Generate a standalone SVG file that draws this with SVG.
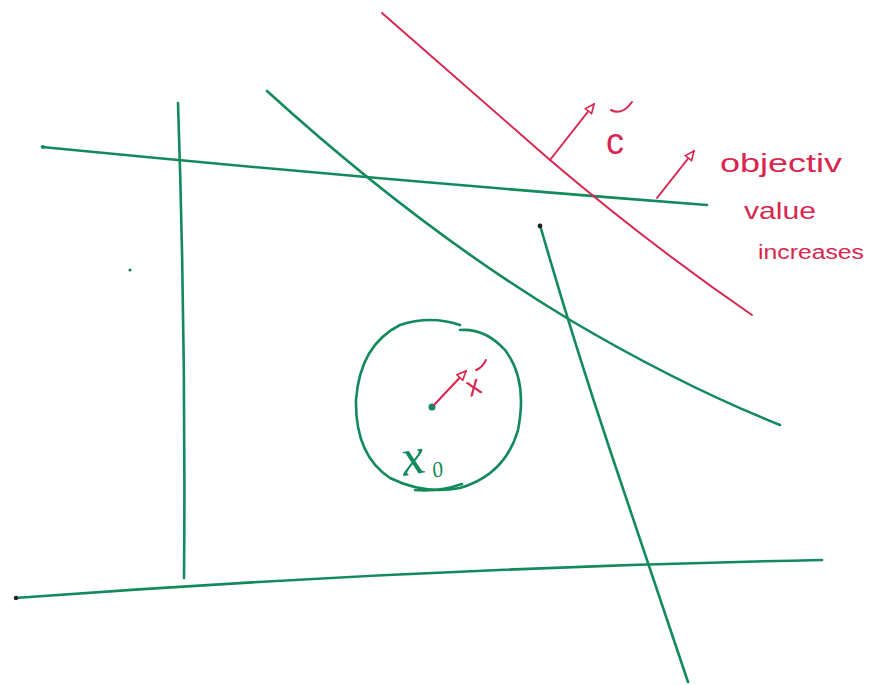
<svg xmlns="http://www.w3.org/2000/svg" width="875" height="685" viewBox="0 0 875 685">
<style>
.g{fill:none;stroke:#138a5c;stroke-width:2.6;stroke-linecap:round}
.r{fill:none;stroke:#d8264f;stroke-width:2;stroke-linecap:round}
.rt{fill:#d8264f;font-family:"Liberation Sans",sans-serif}
.gt{fill:#138a5c;font-family:"Liberation Serif",serif;font-style:italic}
</style>
<defs>
<marker id="ah" viewBox="0 0 12 10" refX="10" refY="5" markerWidth="12" markerHeight="10" markerUnits="userSpaceOnUse" orient="auto">
<path d="M1,1 L10,5 L1,9 Z" fill="#fff" stroke="#d8264f" stroke-width="1.6"/>
</marker>
</defs>
<rect width="875" height="685" fill="#fff"/>
<g id="constraints">
<path class="g" d="M42,147 Q380,180 707,205"/>
<path class="g" d="M178,103 Q186,340 184,578"/>
<path class="g" d="M267,91 Q420,230 570,320 Q680,385 780,425"/>
<path class="g" d="M540,225 Q570,330 610,450 Q650,570 688,682"/>
<path class="g" d="M15,598 Q420,568 822,560"/>
<circle cx="130" cy="270" r="1.6" fill="#138a5c"/>
<circle cx="43" cy="147" r="2" fill="#138a5c"/>
<circle cx="16" cy="598" r="2.2" fill="#222"/>
<circle cx="540" cy="226" r="2.4" fill="#222"/>
</g>
<g id="ball">
<path class="g" d="M460,325 Q430,315 400,325 Q360,345 356,400 Q355,455 390,478 Q425,495 460,488 Q505,475 518,430 Q528,380 505,350 Q485,328 460,330"/>
<path class="g" d="M415,490 Q440,492 462,484"/>
<circle cx="432" cy="407" r="3.5" fill="#138a5c"/>
<text class="gt" x="0" y="0" font-size="52" transform="translate(404,476) rotate(-10)">x</text>
<text class="gt" x="0" y="0" font-size="22" font-style="normal" transform="translate(434,478) rotate(-15)">0</text>
</g>
<g id="objective">
<path class="r" d="M382,13 Q470,90 550,160 Q650,245 752,315"/>
<text class="rt" x="606" y="154" font-size="36">c</text>
<path class="r" d="M611,110 Q622,116 632,102"/>
<text class="rt" font-size="26" textLength="122" lengthAdjust="spacingAndGlyphs" transform="translate(720,172)">objectiv</text>
<text class="rt" font-size="24" textLength="72" lengthAdjust="spacingAndGlyphs" transform="translate(744,219)">value</text>
<text class="rt" font-size="20" textLength="106" lengthAdjust="spacingAndGlyphs" transform="translate(758,259)">increases</text>
<text class="rt" font-size="28" transform="translate(470,397) rotate(-20)">x</text>
<path class="r" d="M476,370 Q482,368 486,360"/>
</g>
<g id="connectors">
<line class="r" x1="550" y1="160" x2="594" y2="104" marker-end="url(#ah)"/>
<line class="r" x1="657" y1="198" x2="694" y2="151" marker-end="url(#ah)"/>
<line class="r" x1="434" y1="405" x2="466" y2="371" marker-end="url(#ah)"/>
</g>
</svg>
